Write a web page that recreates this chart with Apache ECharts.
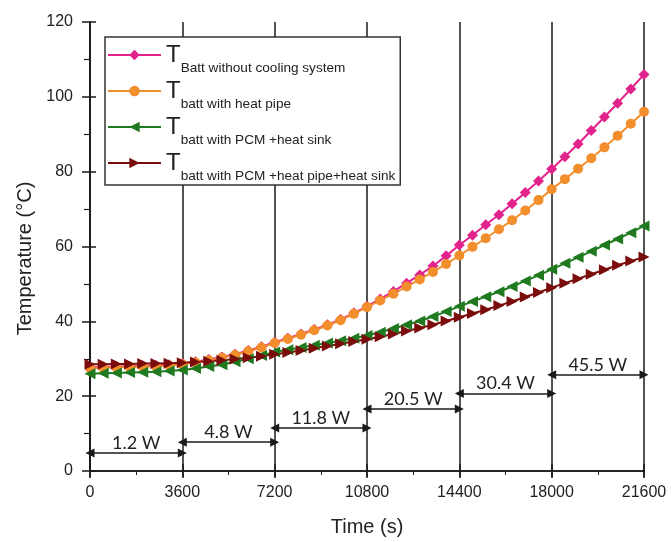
<!DOCTYPE html>
<html>
<head>
<meta charset="utf-8">
<script src="https://cdn.jsdelivr.net/npm/echarts@6/dist/echarts.min.js"></script>
<style>html,body{margin:0;padding:0;background:#fff}#c{width:671px;height:542px}</style>
</head>
<body>
<div id="c"></div>
<script>
const times = [0,514,1029,1543,2057,2571,3086,3600,4114,4629,5143,5657,6171,6686,7200,7714,8229,8743,9257,9771,10286,10800,11314,11829,12343,12857,13371,13886,14400,14914,15429,15943,16457,16971,17486,18000,18514,19029,19543,20057,20571,21086,21600];
const noCooling = [27.7,27.8,27.9,28.0,28.1,28.2,28.4,28.7,29.2,29.8,30.5,31.2,32.2,33.2,34.4,35.5,36.6,37.8,39.1,40.5,42.2,44.0,46.0,48.0,50.2,52.4,54.8,57.5,60.4,63.0,65.8,68.5,71.4,74.4,77.5,80.7,84.0,87.4,91.0,94.6,98.3,102.1,106.0];
const heatPipe = [27.5,27.6,27.7,27.8,27.9,28.0,28.2,28.5,29.0,29.6,30.3,31.0,32.0,33.0,34.2,35.3,36.4,37.6,38.9,40.3,42.0,43.8,45.6,47.4,49.3,51.2,53.2,55.3,57.6,59.9,62.2,64.6,67.0,69.6,72.4,75.3,78.0,80.8,83.6,86.5,89.6,92.8,96.0];
const pcmSink = [26.0,26.1,26.2,26.3,26.4,26.5,26.7,27.0,27.4,27.9,28.4,29.2,30.0,30.9,31.8,32.4,33.0,33.6,34.2,34.8,35.5,36.2,37.1,38.1,39.1,40.1,41.3,42.6,44.0,45.3,46.6,47.9,49.3,50.8,52.3,53.9,55.5,57.1,58.7,60.4,62.0,63.7,65.5];
const pcmPipeSink = [28.5,28.5,28.6,28.6,28.7,28.7,28.8,28.9,29.1,29.3,29.6,29.9,30.3,30.7,31.2,31.7,32.2,32.8,33.4,34.0,34.6,35.2,35.9,36.6,37.4,38.2,39.1,40.1,41.1,42.1,43.1,44.2,45.3,46.5,47.7,49.0,50.2,51.4,52.6,53.8,55.0,56.1,57.2];
const seriesNames = ['Batt without cooling system','batt with heat pipe','batt with PCM +heat sink','batt with PCM +heat pipe+heat sink'];
const stageStarts = [0,3600,7200,10800,14400,18000];
const stageEnds = [3600,7200,10800,14400,18000,21600];
const powerLabels = ['1.2 W','4.8 W','11.8 W','20.5 W','30.4 W','45.5 W'];
const arrowLevels = [4.8,7.7,11.5,16.6,20.7,25.7];

const zip = (xs, ys) => xs.map((x, i) => [x, ys[i]]);
const FONT = 'Liberation Sans, Arial, sans-serif';
const black = '#1a1a1a';

const chart = echarts.init(document.getElementById('c'), null, {renderer: 'canvas'});
const xBase = {type: 'value', min: 0, max: 21600, interval: 3600};
const yBase = {type: 'value', min: 0, max: 120, interval: 20};

const markData = stageStarts.map((s, i) => [
  {coord: [s, arrowLevels[i]], label: {formatter: powerLabels[i]}},
  {coord: [stageEnds[i], arrowLevels[i]]}
]);

function lineSeries(name, data, color, symbol, size, rotate) {
  return {
    name, type: 'line', data, xAxisIndex: 0, yAxisIndex: 0,
    symbol, symbolSize: size, symbolRotate: rotate || 0,
    showAllSymbol: true,
    lineStyle: {color, width: 2},
    itemStyle: {color},
    emphasis: {disabled: true}
  };
}

chart.setOption({
  animation: false,
  backgroundColor: '#fff',
  grid: {left: 90, right: 27, top: 22, bottom: 71},
  legend: {
    data: seriesNames,
    orient: 'vertical',
    left: 105, top: 37,
    padding: [6, 5, 2, 2],
    itemGap: 4,
    itemWidth: 53, itemHeight: 13,
    backgroundColor: '#fff',
    borderColor: '#333', borderWidth: 1.5,
    formatter: n => '{T|T}{s|' + n + '}',
    textStyle: {
      color: '#222', fontFamily: FONT,
      rich: {
        T: {fontSize: 24, lineHeight: 24, verticalAlign: 'top', fontFamily: FONT, color: '#222'},
        s: {fontSize: 13.6, lineHeight: 14, verticalAlign: 'top', padding: [18, 0, 0, 0], fontFamily: FONT, color: '#222'}
      }
    }
  },
  xAxis: [
    Object.assign({}, xBase, {
      position: 'bottom',
      name: 'Time (s)', nameLocation: 'middle', nameGap: 46,
      nameTextStyle: {fontSize: 20, color: '#222', fontFamily: FONT},
      axisLine: {show: true, lineStyle: {color: black, width: 1.5}},
      axisTick: {show: true, inside: false, length: 7, lineStyle: {color: black, width: 1.5}},
      minorTick: {show: true, splitNumber: 2, length: 4, lineStyle: {color: black, width: 1}},
      axisLabel: {fontSize: 16, color: '#222', margin: 14, fontFamily: FONT, formatter: v => String(v)},
      splitLine: {show: true, lineStyle: {color: black, width: 1.5}}
    }),
    Object.assign({}, xBase, {
      position: 'top',
      axisLine: {show: true, lineStyle: {color: black, width: 1.5}},
      axisTick: {show: true, inside: true, length: 6, lineStyle: {color: black, width: 1.5}},
      minorTick: {show: true, splitNumber: 2, length: 4, lineStyle: {color: black, width: 1}},
      axisLabel: {show: false},
      splitLine: {show: false}
    }),
    Object.assign({}, xBase, {
      position: 'top',
      axisLine: {show: false},
      axisTick: {show: true, inside: false, length: 7, lineStyle: {color: black, width: 1.5}},
      axisLabel: {show: false},
      splitLine: {show: false}
    })
  ],
  yAxis: [
    Object.assign({}, yBase, {
      position: 'left',
      name: 'Temperature (°C)', nameLocation: 'middle', nameGap: 52,
      nameTextStyle: {fontSize: 20, color: '#222', fontFamily: FONT, padding: [0, 24, 0, 0]},
      axisLine: {show: true, lineStyle: {color: black, width: 1.5}},
      axisTick: {show: true, inside: false, length: 8, lineStyle: {color: black, width: 1.5}},
      minorTick: {show: true, splitNumber: 2, length: 4, lineStyle: {color: black, width: 1}},
      axisLabel: {fontSize: 16, color: '#222', margin: 17, fontFamily: FONT},
      splitLine: {show: false}
    }),
    Object.assign({}, yBase, {
      position: 'left',
      axisLine: {show: false},
      axisTick: {show: true, inside: true, length: 6, lineStyle: {color: black, width: 1.5}},
      axisLabel: {show: false},
      splitLine: {show: false}
    }),
    Object.assign({}, yBase, {
      position: 'right',
      axisLine: {show: true, lineStyle: {color: black, width: 1.5}},
      axisTick: {show: false, inside: true},
      minorTick: {show: true, splitNumber: 2, length: 6, lineStyle: {color: black, width: 1.2}},
      axisLabel: {show: false},
      splitLine: {show: false}
    })
  ],
  series: [
    lineSeries(seriesNames[0], zip(times, noCooling), '#E3238C', 'diamond', 11),
    lineSeries(seriesNames[1], zip(times, heatPipe), '#F28E2B', 'circle', 10),
    lineSeries(seriesNames[2], zip(times, pcmSink), '#1F7A1F', 'triangle', 11, 90),
    lineSeries(seriesNames[3], zip(times, pcmPipeSink), '#7A0C0C', 'triangle', 11, -90),
    {
      name: 'annotations', type: 'line', data: [], xAxisIndex: 0, yAxisIndex: 0,
      markLine: {
        silent: true,
        symbol: ['triangle', 'triangle'],
        symbolSize: [9, 9],
        lineStyle: {color: black, width: 1.5, type: 'solid'},
        label: {show: true, position: 'middle', distance: 1, fontSize: 18, color: '#222', fontFamily: 'Lato, Liberation Sans, sans-serif'},
        emphasis: {disabled: true},
        data: markData
      }
    }
  ]
});
</script>
</body>
</html>
